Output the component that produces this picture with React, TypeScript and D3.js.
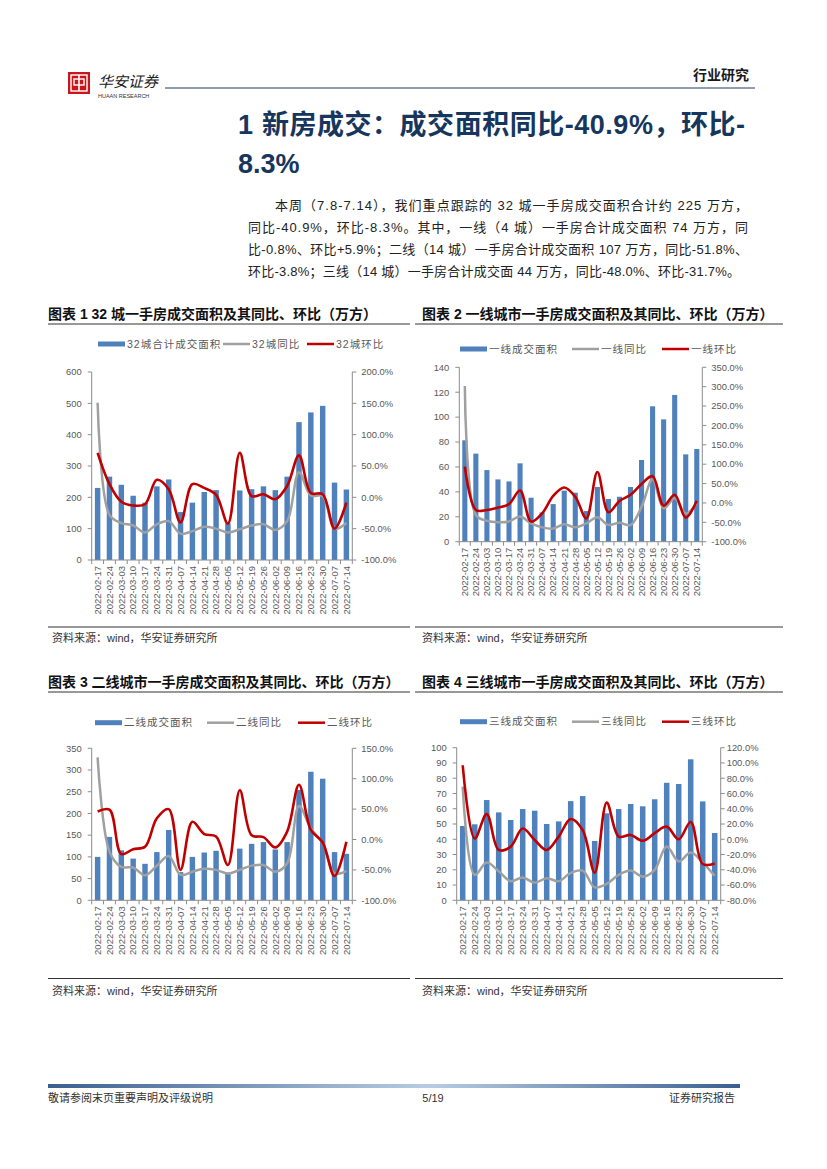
import React from "react";
import * as d3 from "d3";

const dates = [
  "2022-02-17", "2022-02-24", "2022-03-03", "2022-03-10", "2022-03-17", "2022-03-24",
  "2022-03-31", "2022-04-07", "2022-04-14", "2022-04-21", "2022-04-28", "2022-05-05",
  "2022-05-12", "2022-05-19", "2022-05-26", "2022-06-02", "2022-06-09", "2022-06-16",
  "2022-06-23", "2022-06-30", "2022-07-07", "2022-07-14",
];

// Chart 1: 32 cities
const area32 = [230, 266, 240, 205, 183, 235, 257, 153, 183, 217, 223, 117, 222, 226, 235, 223, 266, 440, 471, 492, 247, 225];
const yoy32 = [151, -28, -41, -45, -56, -43, -38, -58, -54, -47, -50, -56, -51, -45, -43, -52, -38, 40, 3, 2, -50, -40.9];
const mom32 = [71, 21, -7, -13, -11, 28, 13, -40, 21, 15, 4, -42, 71, 2, 5, -3, 18, 67, 7, 5, -50, -8.3];

// Chart 2: tier-1
const area1 = [81.4, 70.7, 57.5, 50, 48.4, 62.9, 35.3, 23.5, 30.2, 41, 39.3, 24.6, 43.9, 34.3, 36.1, 43.9, 65.6, 108.7, 98.2, 117.8, 70.1, 74.4];
const yoy1 = [302, -31, -46, -50, -48, -35, -53, -63, -66, -55, -63, -53, -37, -57, -51, -57, -10, 61, -14, 12, -27, -0.8];
const mom1 = [93.6, -18, -18, -12, -3, 32, -48, -27, 18, 40, 16, -40, 80, -24, 5, 21, 49, 69, -7, 21, -38, 5.9];

// Chart 3: tier-2
const area2 = [100, 146, 115, 96, 84, 111, 162, 65, 100, 110, 114, 63, 119, 130, 134, 117, 134, 254, 296, 280, 111, 107];
const yoy2 = [135, -20, -45, -46, -59, -43, -27, -58, -53, -48, -50, -56, -50, -43, -42, -53, -39, 55, 18, -6, -56, -51.8];
const mom2 = [46, 49, -24, -16, -12, 35, 50, -50, 29, 9, 5, -42, 81, 7, 4, -13, 13, 90, 16, -5, -60, -3.8];

// Chart 4: tier-3
const area3 = [48.7, 49.8, 65.7, 57.6, 52.6, 59.8, 58.7, 50, 51.7, 65, 68.3, 38.9, 57, 59.8, 63.1, 61.6, 66.2, 77, 76.2, 92.4, 64.8, 44.1];
const yoy3 = [69, -46.7, -30.6, -42, -55, -50, -57, -51, -55, -44, -41, -63, -58.5, -46.7, -41, -49, -40, -9.6, -29, -17.5, -30.6, -48];
const mom3 = [97, 1, 33, -14, -9.6, 14, -1, -14, 3.5, 26.6, 12, -43.7, 48, 3.5, 5.7, -2, 8, 16.6, 0, 22.7, -32.3, -31.7];

const leftTicks1 = [0, 100, 200, 300, 400, 500, 600];
const rightTicks1 = [-100, -50, 0, 50, 100, 150, 200];
const leftTicks2 = [0, 20, 40, 60, 80, 100, 120, 140];
const rightTicks2 = [-100, -50, 0, 50, 100, 150, 200, 250, 300, 350];
const leftTicks3 = [0, 50, 100, 150, 200, 250, 300, 350];
const rightTicks3 = [-100, -50, 0, 50, 100, 150];
const leftTicks4 = [0, 10, 20, 30, 40, 50, 60, 70, 80, 90, 100];
const rightTicks4 = [-80, -60, -40, -20, 0, 20, 40, 60, 80, 100, 120];

const legend1 = ["32城合计成交面积", "32城同比", "32城环比"];
const legend2 = ["一线成交面积", "一线同比", "一线环比"];
const legend3 = ["二线成交面积", "二线同比", "二线环比"];
const legend4 = ["三线成交面积", "三线同比", "三线环比"];

const paraLines = [
  "本周（7.8-7.14），我们重点跟踪的 32 城一手房成交面积合计约 225 万方，",
  "同比-40.9%，环比-8.3%。其中，一线（4 城）一手房合计成交面积 74 万方，同",
  "比-0.8%、环比+5.9%；二线（14 城）一手房合计成交面积 107 万方，同比-51.8%、",
  "环比-3.8%；三线（14 城）一手房合计成交面 44 万方，同比-48.0%、环比-31.7%。",
];

const FONT = "'Liberation Sans', Arial, 'Noto Sans CJK SC', sans-serif";
const CJK = "'Liberation Sans', 'Noto Sans CJK SC', sans-serif";
const BLUE = "#4F81BD";
const GRAY = "#A0A0A0";
const RED = "#C00000";
const AXIS = "#8C8C8C";
const LABEL = "#595959";

type ChartProps = {
  x0: number; x1: number; yT: number; yB: number;
  lTicks: number[]; rTicks: number[];
  bars: number[]; yoy: number[]; mom: number[];
  legend: string[]; legY: number; legX: number[];
  lLabelGap: number; rLabelGap: number;
};

function Chart(p: ChartProps) {
  const x = d3.scaleBand<string>().domain(dates).range([p.x0, p.x1]).paddingInner(0.54).paddingOuter(0.27);
  const step = x.step();
  const yL = d3.scaleLinear().domain([p.lTicks[0], p.lTicks[p.lTicks.length - 1]]).range([p.yB, p.yT]);
  const yR = d3.scaleLinear().domain([p.rTicks[0], p.rTicks[p.rTicks.length - 1]]).range([p.yB, p.yT]);
  const cx = (i: number) => (x(dates[i]) as number) + x.bandwidth() / 2;
  const line = d3.line<number>().x((_, i) => cx(i)).y((v) => yR(v)).curve(d3.curveCatmullRom.alpha(0.5));
  const bounds = d3.range(dates.length + 1).map((i) => p.x0 + i * step);
  return (
    <g>
      {/* legend */}
      <rect x={p.legX[0]} y={p.legY - 2.5} width={27} height={5} fill={BLUE} />
      <text x={p.legX[0] + 29} y={p.legY} dy="0.35em" fontSize={10.5} letterSpacing={1} fill={LABEL} fontFamily={CJK}>{p.legend[0]}</text>
      <line x1={p.legX[1]} x2={p.legX[1] + 27} y1={p.legY} y2={p.legY} stroke={GRAY} strokeWidth={2.5} />
      <text x={p.legX[1] + 29} y={p.legY} dy="0.35em" fontSize={10.5} letterSpacing={1} fill={LABEL} fontFamily={CJK}>{p.legend[1]}</text>
      <line x1={p.legX[2]} x2={p.legX[2] + 27} y1={p.legY} y2={p.legY} stroke={RED} strokeWidth={2.5} />
      <text x={p.legX[2] + 29} y={p.legY} dy="0.35em" fontSize={10.5} letterSpacing={1} fill={LABEL} fontFamily={CJK}>{p.legend[2]}</text>

      {/* bars */}
      {p.bars.map((v, i) => (
        <rect key={i} x={x(dates[i])} y={yL(v)} width={x.bandwidth()} height={p.yB - yL(v)} fill={BLUE} />
      ))}

      {/* axes */}
      <line x1={p.x0} x2={p.x0} y1={p.yT} y2={p.yB} stroke={AXIS} strokeWidth={1} />
      <line x1={p.x1} x2={p.x1} y1={p.yT} y2={p.yB} stroke={AXIS} strokeWidth={1} />
      <line x1={p.x0} x2={p.x1} y1={p.yB} y2={p.yB} stroke={AXIS} strokeWidth={1} />
      {p.lTicks.map((t) => (
        <g key={"l" + t}>
          <line x1={p.x0 - 4} x2={p.x0} y1={yL(t)} y2={yL(t)} stroke={AXIS} />
          <text x={p.x0 - p.lLabelGap} y={yL(t)} dy="0.35em" textAnchor="end" fontSize={9.4} fill={LABEL} fontFamily={FONT}>{t}</text>
        </g>
      ))}
      {p.rTicks.map((t) => (
        <g key={"r" + t}>
          <line x1={p.x1} x2={p.x1 + 4} y1={yR(t)} y2={yR(t)} stroke={AXIS} />
          <text x={p.x1 + p.rLabelGap} y={yR(t)} dy="0.35em" textAnchor="start" fontSize={9.4} fill={LABEL} fontFamily={FONT}>{t.toFixed(1) + "%"}</text>
        </g>
      ))}
      {bounds.map((b, i) => (
        <line key={"b" + i} x1={b} x2={b} y1={p.yB} y2={p.yB + 4} stroke={AXIS} />
      ))}
      {dates.map((d, i) => (
        <text key={d} transform={`translate(${cx(i) + 3.3},${p.yB + 6}) rotate(-90)`} textAnchor="end" fontSize={9.5} fill={LABEL} fontFamily={FONT}>{d}</text>
      ))}

      {/* lines */}
      <path d={line(p.yoy) as string} fill="none" stroke={GRAY} strokeWidth={2.5} />
      <path d={line(p.mom) as string} fill="none" stroke={RED} strokeWidth={2.6} />
    </g>
  );
}

export default function App() {
  return (
    <svg width={827} height={1169} viewBox="0 0 827 1169" style={{ position: "absolute", left: 0, top: 0, background: "#fff" }}>
      <defs>
        <linearGradient id="foot" x1="0" x2="1" y1="0" y2="0">
          <stop offset="0" stopColor="#3A5F8F" />
          <stop offset="0.55" stopColor="#B8CDE3" />
          <stop offset="1" stopColor="#3A5F8F" />
        </linearGradient>
      </defs>
      <rect x={0} y={0} width={827} height={1169} fill="#fff" />

      {/* header */}
      <rect x={68} y={72} width={22} height={22} fill="#C8161D" />
      <rect x={71} y={75} width={16} height={16} fill="none" stroke="#fff" strokeWidth={1.4} />
      <line x1={79} x2={79} y1={75} y2={91} stroke="#fff" strokeWidth={1.6} />
      <rect x={74} y={79} width={10} height={6} fill="none" stroke="#fff" strokeWidth={1.4} />
      <text x={98} y={87} fontSize={15} fontFamily="'Noto Sans CJK SC', sans-serif" fill="#222" fontStyle="italic">华安证券</text>
      <text x={98} y={98} fontSize={5.5} fontFamily={FONT} fill="#333">HUAAN RESEARCH</text>
      <line x1={165} x2={755} y1={88} y2={88} stroke="#1F3864" strokeWidth={1} />
      <text x={749} y={80} textAnchor="end" fontSize={14} fontWeight={700} fontFamily={CJK} fill="#1a1a1a">行业研究</text>

      {/* section title */}
      <text x={238} y={134} fontSize={27} fontWeight={700} fontFamily={CJK} fill="#17365D">1</text>
      <text x={262} y={134} fontSize={27} fontWeight={700} fontFamily={CJK} fill="#17365D" textLength={483} lengthAdjust="spacing">新房成交：成交面积同比-40.9%，环比-</text>
      <text x={238} y={173} fontSize={27} fontWeight={700} fontFamily={CJK} fill="#17365D">8.3%</text>

      {/* paragraph */}
      {paraLines.map((s, i) => (
        <text key={i} x={i === 0 ? 275 : 248} y={210 + i * 22} fontSize={13} fontFamily={CJK} fill="#222"
          textLength={i === 0 ? 473 : i === 3 ? 492 : 500} lengthAdjust="spacing">{s}</text>
      ))}

      {/* chart titles */}
      <text x={48} y={319} fontSize={14} fontWeight={700} fontFamily={CJK} fill="#111">图表 1 32 城一手房成交面积及其同比、环比（万方）</text>
      <line x1={48} x2={410} y1={324} y2={324} stroke="#333" strokeWidth={1.2} />
      <text x={422} y={319} fontSize={14} fontWeight={700} fontFamily={CJK} fill="#111">图表 2  一线城市一手房成交面积及其同比、环比（万方）</text>
      <line x1={415} x2={783} y1={324} y2={324} stroke="#333" strokeWidth={1.2} />
      <text x={48} y={687} fontSize={14} fontWeight={700} fontFamily={CJK} fill="#111">图表 3  二线城市一手房成交面积及其同比、环比（万方）</text>
      <line x1={48} x2={410} y1={692} y2={692} stroke="#333" strokeWidth={1.2} />
      <text x={422} y={687} fontSize={14} fontWeight={700} fontFamily={CJK} fill="#111">图表 4  三线城市一手房成交面积及其同比、环比（万方）</text>
      <line x1={415} x2={783} y1={692} y2={692} stroke="#333" strokeWidth={1.2} />

      <Chart x0={91.7} x1={352.3} yT={372} yB={560} lTicks={leftTicks1} rTicks={rightTicks1}
        bars={area32} yoy={yoy32} mom={mom32} legend={legend1} legY={344} legX={[98, 223, 307]} lLabelGap={10} rLabelGap={9} />
      <Chart x0={459.3} x1={702.3} yT={367.3} yB={541.7} lTicks={leftTicks2} rTicks={rightTicks2}
        bars={area1} yoy={yoy1} mom={mom1} legend={legend2} legY={349} legX={[460, 572, 662]} lLabelGap={10} rLabelGap={9} />
      <Chart x0={91.7} x1={352.3} yT={748.3} yB={900.3} lTicks={leftTicks3} rTicks={rightTicks3}
        bars={area2} yoy={yoy2} mom={mom2} legend={legend3} legY={722.7} legX={[95, 207, 298]} lLabelGap={10} rLabelGap={9} />
      <Chart x0={456.7} x1={720.7} yT={747.7} yB={900.3} lTicks={leftTicks4} rTicks={rightTicks4}
        bars={area3} yoy={yoy3} mom={mom3} legend={legend4} legY={721.7} legX={[460, 572, 662]} lLabelGap={10} rLabelGap={6} />

      {/* source lines */}
      <line x1={48} x2={410} y1={627} y2={627} stroke="#333" strokeWidth={1.2} />
      <line x1={415} x2={783} y1={627} y2={627} stroke="#333" strokeWidth={1.2} />
      <text x={52} y={642} fontSize={11} fontFamily={CJK} fill="#333">资料来源：wind，华安证券研究所</text>
      <text x={422} y={642} fontSize={11} fontFamily={CJK} fill="#333">资料来源：wind，华安证券研究所</text>
      <line x1={48} x2={410} y1={978.5} y2={978.5} stroke="#333" strokeWidth={1.2} />
      <line x1={415} x2={783} y1={978.5} y2={978.5} stroke="#333" strokeWidth={1.2} />
      <text x={52} y={995} fontSize={11} fontFamily={CJK} fill="#333">资料来源：wind，华安证券研究所</text>
      <text x={422} y={995} fontSize={11} fontFamily={CJK} fill="#333">资料来源：wind，华安证券研究所</text>

      {/* footer */}
      <rect x={48} y={1084} width={692} height={4} fill="url(#foot)" />
      <text x={48} y={1102} fontSize={11} fontFamily={CJK} fill="#333">敬请参阅末页重要声明及评级说明</text>
      <text x={433} y={1102} textAnchor="middle" fontSize={11} fontFamily={FONT} fill="#333">5/19</text>
      <text x={735} y={1102} textAnchor="end" fontSize={11} fontFamily={CJK} fill="#333">证券研究报告</text>
    </svg>
  );
}
